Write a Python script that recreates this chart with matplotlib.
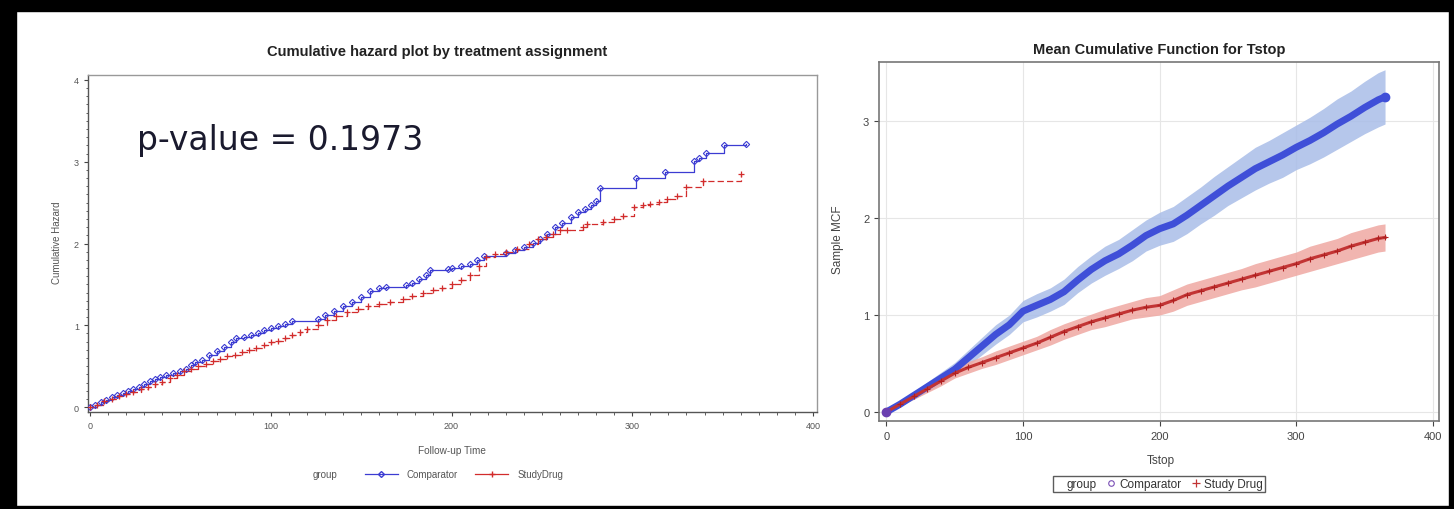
import matplotlib
matplotlib.use("Agg")
import matplotlib.pyplot as plt
from matplotlib.lines import Line2D
from matplotlib.patches import Rectangle
from matplotlib.ticker import MultipleLocator

plt.rcParams['font.family'] = ['Liberation Sans', 'DejaVu Sans']

# ---------------- Left panel data: cumulative hazard (step) ----------------
comp_t = [0, 3, 6, 9, 12, 15, 18, 21, 24, 27, 30, 33, 36, 39, 42, 46, 50, 53, 56, 58,
          62, 66, 70, 74, 78, 81, 85, 89, 93, 96, 100, 104, 108, 112, 126, 130, 135, 140,
          145, 150, 155, 160, 164, 175, 178, 182, 186, 188, 198, 200, 205, 210, 214, 218,
          230, 235, 240, 245, 249, 253, 257, 261, 266, 270, 274, 277, 280, 282, 302, 318,
          334, 337, 341, 351, 363]
comp_h = [0.00, 0.03, 0.06, 0.09, 0.12, 0.15, 0.17, 0.20, 0.22, 0.25, 0.28, 0.32, 0.34, 0.37,
          0.39, 0.42, 0.44, 0.47, 0.51, 0.55, 0.57, 0.64, 0.69, 0.74, 0.80, 0.84, 0.86, 0.88,
          0.91, 0.94, 0.97, 0.99, 1.02, 1.05, 1.08, 1.12, 1.18, 1.24, 1.29, 1.35, 1.42, 1.46,
          1.47, 1.49, 1.52, 1.56, 1.62, 1.67, 1.69, 1.70, 1.73, 1.75, 1.80, 1.85, 1.88, 1.92,
          1.96, 2.01, 2.05, 2.12, 2.20, 2.25, 2.32, 2.38, 2.42, 2.47, 2.52, 2.68, 2.80, 2.87,
          3.01, 3.04, 3.11, 3.20, 3.22]

drug_t = [0, 4, 8, 12, 16, 20, 24, 28, 32, 36, 40, 44, 48, 52, 56, 60, 64, 68, 72, 76, 80,
          84, 88, 92, 96, 100, 104, 108, 112, 116, 120, 126, 131, 136, 142, 148, 154, 160,
          166, 173, 178, 184, 190, 195, 200, 205, 210, 215, 219, 224, 230, 236, 243, 248,
          252, 256, 260, 264, 273, 275, 284, 290, 295, 301, 306, 310, 315, 319, 325, 330,
          339, 360]
drug_h = [0.00, 0.03, 0.07, 0.10, 0.13, 0.16, 0.19, 0.22, 0.25, 0.28, 0.31, 0.35, 0.39, 0.44,
          0.47, 0.50, 0.53, 0.56, 0.59, 0.62, 0.64, 0.67, 0.70, 0.72, 0.76, 0.79, 0.81, 0.84,
          0.88, 0.92, 0.96, 1.00, 1.06, 1.11, 1.16, 1.20, 1.23, 1.26, 1.29, 1.32, 1.36, 1.40,
          1.43, 1.46, 1.50, 1.55, 1.62, 1.72, 1.83, 1.87, 1.90, 1.93, 2.00, 2.05, 2.08, 2.12,
          2.16, 2.17, 2.20, 2.24, 2.26, 2.30, 2.34, 2.45, 2.47, 2.48, 2.51, 2.54, 2.58, 2.69,
          2.77, 2.85]

# ---------------- Right panel data: MCF with confidence band ----------------
mcf_t = [0, 10, 20, 30, 40, 50, 60, 70, 80, 90, 100, 110, 120, 130, 140, 150, 160, 170, 180,
         190, 200, 210, 220, 230, 240, 250, 260, 270, 280, 290, 300, 310, 320, 330, 340, 350,
         360, 365]
comp_mcf = [0.00, 0.08, 0.17, 0.26, 0.35, 0.44, 0.56, 0.68, 0.80, 0.90, 1.04, 1.10, 1.16,
            1.24, 1.36, 1.47, 1.56, 1.63, 1.72, 1.82, 1.89, 1.94, 2.03, 2.13, 2.23, 2.33,
            2.42, 2.51, 2.58, 2.65, 2.73, 2.80, 2.88, 2.97, 3.05, 3.14, 3.22, 3.25]
comp_lo = [0.00, 0.06, 0.13, 0.21, 0.29, 0.37, 0.48, 0.59, 0.70, 0.80, 0.93, 0.98, 1.04,
           1.11, 1.23, 1.33, 1.41, 1.48, 1.56, 1.66, 1.72, 1.76, 1.84, 1.94, 2.03, 2.13,
           2.21, 2.29, 2.36, 2.42, 2.50, 2.56, 2.63, 2.71, 2.79, 2.87, 2.94, 2.97]
comp_hi = [0.00, 0.10, 0.21, 0.31, 0.41, 0.51, 0.64, 0.77, 0.90, 1.00, 1.15, 1.22, 1.28,
           1.37, 1.50, 1.61, 1.71, 1.78, 1.88, 1.98, 2.06, 2.12, 2.22, 2.32, 2.43, 2.53,
           2.63, 2.73, 2.80, 2.88, 2.96, 3.04, 3.13, 3.23, 3.31, 3.41, 3.50, 3.53]

drug_mcf = [0.00, 0.08, 0.16, 0.24, 0.32, 0.40, 0.46, 0.51, 0.56, 0.61, 0.66, 0.71, 0.77,
            0.83, 0.88, 0.93, 0.97, 1.01, 1.05, 1.08, 1.10, 1.15, 1.21, 1.25, 1.29, 1.33,
            1.37, 1.41, 1.45, 1.49, 1.53, 1.58, 1.62, 1.66, 1.71, 1.75, 1.79, 1.80]
drug_lo = [0.00, 0.07, 0.13, 0.20, 0.27, 0.35, 0.40, 0.45, 0.49, 0.54, 0.59, 0.64, 0.69,
           0.75, 0.80, 0.85, 0.88, 0.92, 0.96, 0.98, 1.00, 1.04, 1.10, 1.14, 1.18, 1.22,
           1.26, 1.29, 1.33, 1.37, 1.41, 1.45, 1.49, 1.53, 1.57, 1.61, 1.65, 1.66]
drug_hi = [0.00, 0.09, 0.19, 0.28, 0.37, 0.45, 0.52, 0.57, 0.63, 0.68, 0.73, 0.78, 0.85,
           0.91, 0.96, 1.01, 1.06, 1.10, 1.14, 1.18, 1.20, 1.26, 1.32, 1.36, 1.40, 1.44,
           1.48, 1.53, 1.57, 1.61, 1.65, 1.71, 1.75, 1.79, 1.85, 1.89, 1.93, 1.94]

group_labels = ['Comparator', 'StudyDrug']
group_labels_mcf = ['Comparator', 'Study Drug']

left_ticks_x = [0, 100, 200, 300, 400]
left_ticks_y = [0, 1, 2, 3, 4]
right_ticks_x = [0, 100, 200, 300, 400]
right_ticks_y = [0, 1, 2, 3]

BLUE = '#3c3cd2'
RED = '#d22c2c'
BLUE2 = '#3f4fd8'
RED2 = '#c23434'
BAND_BLUE = '#a9bde8'
BAND_RED = '#efa8a2'

W, H = 1454, 510
fig = plt.figure(figsize=(W / 100, H / 100), dpi=100)
fig.patch.set_facecolor('white')

def fx(px):
    return px / W

def fy(py):
    return 1 - py / H

# black screenshot border
for (x0, y0, w, h) in [(0, 0, 16, H), (0, 0, W, 12), (0, 507, W, 3), (1449, 0, 5, H)]:
    fig.patches.append(Rectangle((fx(x0), fy(y0 + h)), w / W, h / H,
                                 transform=fig.transFigure, color='black', zorder=10))

# ---------------- Left panel ----------------
axL = fig.add_axes([fx(88), fy(413), fx(817) - fx(88), fy(76) - fy(413)])
axL.step(comp_t, comp_h, where='post', color=BLUE, lw=0.9, zorder=3)
axL.plot(comp_t, comp_h, linestyle='none', marker='D', ms=3.2, mfc='none', mec=BLUE,
         mew=0.8, zorder=4)
axL.step(drug_t, drug_h, where='post', color=RED, lw=0.9, linestyle=(0, (5, 2.5)), zorder=3)
axL.plot(drug_t, drug_h, linestyle='none', marker='+', ms=5, mec=RED, mew=0.9, zorder=4)
axL.set_xlim(-1.1, 402.2)
axL.set_ylim(-0.06, 4.06)
axL.set_xticks(left_ticks_x)
axL.set_yticks(left_ticks_y)
axL.xaxis.set_minor_locator(MultipleLocator(10))
axL.yaxis.set_minor_locator(MultipleLocator(0.1))
axL.tick_params(axis='both', which='major', labelsize=6.5, labelcolor='#555555', color='#444444',
                length=3, width=0.8, direction='out')
axL.tick_params(axis='both', which='minor', color='#444444', length=1.8, width=0.6,
                direction='out')
for s in ['top', 'right']:
    axL.spines[s].set_color('#999999')
for s in ['left', 'bottom']:
    axL.spines[s].set_color('#555555')
for s in axL.spines.values():
    s.set_linewidth(1.0)

fig.text(fx(437), fy(52), 'Cumulative hazard plot by treatment assignment',
         ha='center', va='center', fontsize=10.6, fontweight='bold', color='#222222')
fig.text(fx(137), fy(150), 'p-value = 0.1973', ha='left', va='baseline', fontsize=23.8,
         family=['DejaVu Sans'], color='#1a1a2e')
fig.text(fx(57), fy(243), 'Cumulative Hazard', rotation=90, ha='center', va='center',
         fontsize=7, color='#555555')
fig.text(fx(452), fy(451), 'Follow-up Time', ha='center', va='center', fontsize=7.2,
         color='#555555')
fig.text(fx(325), fy(475), 'group', ha='center', va='center', fontsize=7, color='#555555')

hL = [Line2D([0, 0.5, 1], [0, 0, 0], color=BLUE, lw=0.9, marker='D', ms=3, mfc='none',
             mec=BLUE),
      Line2D([0, 0.5, 1], [0, 0, 0], color=RED, lw=0.9, marker='+', ms=5, mec=RED)]
legL = fig.legend(hL, group_labels, loc='center', bbox_to_anchor=(fx(464), fy(475)), ncol=2,
                  frameon=False, fontsize=7, handlelength=3.4, columnspacing=1.8,
                  handletextpad=0.9, labelcolor='#555555')

# ---------------- Right panel ----------------
axR = fig.add_axes([fx(879), fy(422), fx(1439) - fx(879), fy(63) - fy(422)])
axR.fill_between(mcf_t, comp_lo, comp_hi, color=BAND_BLUE, lw=0, alpha=0.85, zorder=2)
axR.fill_between(mcf_t, drug_lo, drug_hi, color=BAND_RED, lw=0, alpha=0.85, zorder=2)
axR.plot(mcf_t, comp_mcf, color=BLUE2, lw=5, solid_capstyle='round', zorder=3)
axR.plot(mcf_t, drug_mcf, color=RED2, lw=2.2, zorder=3)
axR.plot(mcf_t, drug_mcf, linestyle='none', marker='+', ms=4, mec='#b02020', mew=0.8,
         zorder=4)
axR.plot([mcf_t[-1]], [comp_mcf[-1]], marker='o', ms=6, color=BLUE2, zorder=5)
axR.plot([mcf_t[0]], [comp_mcf[0]], marker='o', ms=6, color='#6a3fb0', zorder=5)
axR.set_xlim(-5.4, 404.5)
axR.set_ylim(-0.093, 3.61)
axR.set_xticks(right_ticks_x)
axR.set_yticks(right_ticks_y)
axR.grid(True, color='#e6e6e6', lw=0.8, zorder=0)
axR.set_axisbelow(True)
axR.tick_params(axis='both', labelsize=8, labelcolor='#444444', color='#444444', length=3.5,
                width=0.8, direction='out')
for s in axR.spines.values():
    s.set_color('#777777')
    s.set_linewidth(1.2)

fig.text(fx(1159), fy(50), 'Mean Cumulative Function for Tstop', ha='center', va='center',
         fontsize=10.5, fontweight='bold', color='#222222')
fig.text(fx(838), fy(240), 'Sample MCF', rotation=90, ha='center', va='center', fontsize=8.5,
         color='#444444')
fig.text(fx(1161), fy(461), 'Tstop', ha='center', va='center', fontsize=8.5, color='#444444')

hR = [Line2D([], [], linestyle='none'),
      Line2D([], [], linestyle='none', marker='o', ms=4, mfc='none', mec='#7a4fb5', mew=0.8),
      Line2D([], [], linestyle='none', marker='+', ms=5.5, mec='#c23434', mew=0.9)]
legR = fig.legend(hR, ['group'] + group_labels_mcf, loc='center',
                  bbox_to_anchor=(fx(1159), fy(485)), ncol=3, frameon=True, fontsize=8.5,
                  handlelength=0.6, handletextpad=0.4, columnspacing=0.9, borderpad=0.2,
                  fancybox=False, labelcolor='#333333')
legR.get_frame().set_edgecolor('#333333')
legR.get_frame().set_linewidth(1.0)

fig.savefig('out.png', dpi=100)
